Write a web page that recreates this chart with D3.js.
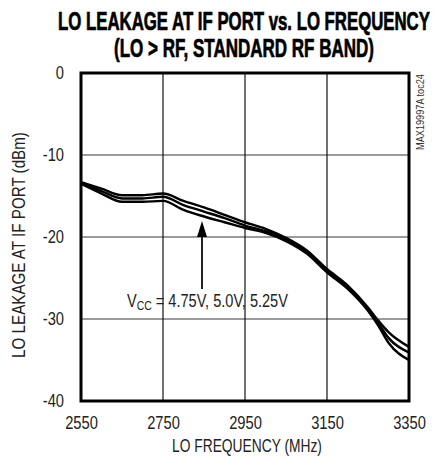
<!DOCTYPE html>
<html><head><meta charset="utf-8">
<script src="https://cdn.jsdelivr.net/npm/d3@7"></script>
<style>
html,body{margin:0;padding:0;background:#fff;}
svg text{font-family:"Liberation Sans",Arial,sans-serif;}
</style></head>
<body>
<svg id="c" width="433" height="458"></svg>
<script>
const freq = [2550, 2600, 2650, 2700, 2750, 2800, 2850, 2900, 2950, 3000, 3050, 3100, 3150, 3200, 3250, 3275, 3300, 3350];
const vcc475 = [-13.3, -14.1, -14.9, -14.9, -14.7, -15.6, -16.4, -17.3, -18.2, -19.0, -20.1, -21.6, -23.9, -25.9, -28.6, -30.2, -31.6, -33.4];
const vcc500 = [-13.4, -14.4, -15.3, -15.3, -15.1, -16.1, -16.9, -17.7, -18.6, -19.3, -20.3, -21.8, -24.1, -26.1, -28.8, -30.5, -32.3, -34.1];
const vcc525 = [-13.5, -14.7, -15.7, -15.7, -15.6, -16.7, -17.5, -18.2, -18.9, -19.5, -20.5, -22.0, -24.3, -26.3, -29.0, -30.8, -32.9, -35.0];
const xTicks = [2550, 2750, 2950, 3150, 3350];
const yTicks = [0, -10, -20, -30, -40];
const titleLines = ["LO LEAKAGE AT IF PORT vs. LO FREQUENCY", "(LO > RF, STANDARD RF BAND)"];

const svg = d3.select("#c");
const L = 81, R = 409, T = 73, B = 401;
const x = d3.scaleLinear().domain([2550, 3350]).range([L, R]);
const y = d3.scaleLinear().domain([-40, 0]).range([B, T]);

function squeeze(sel, sx, ax, ay) {
  sel.attr("transform", `translate(${ax},${ay}) scale(${sx},1) translate(${-ax},${-ay})`);
}
function fitText(x0, y0, str, size, width, weight, fill) {
  const t = svg.append("text").attr("x", x0).attr("y", y0).attr("text-anchor", "middle")
    .attr("font-size", size).attr("font-weight", weight || "normal").attr("fill", fill || "#222").text(str);
  const w = t.node().getComputedTextLength();
  squeeze(t, width / w, x0, y0);
  return t;
}

// grid
svg.append("g").selectAll("line").data(yTicks.slice(1, 4)).join("line")
  .attr("x1", L).attr("x2", R).attr("y1", d => y(d)).attr("y2", d => y(d))
  .attr("stroke", "#7a7a7a").attr("stroke-width", 1.6);
svg.append("g").selectAll("line").data(xTicks.slice(1, 4)).join("line")
  .attr("y1", T).attr("y2", B).attr("x1", d => x(d)).attr("x2", d => x(d))
  .attr("stroke", "#111").attr("stroke-width", 1.2);

// curves
const line = d3.line().x((d, i) => x(freq[i])).y(d => y(d)).curve(d3.curveMonotoneX);
svg.append("g").selectAll("path").data([vcc475, vcc500, vcc525]).join("path")
  .attr("d", d => line(d)).attr("fill", "none").attr("stroke", "#000").attr("stroke-width", 2.4);

// frame
svg.append("rect").attr("x", L).attr("y", T).attr("width", R - L).attr("height", B - T)
  .attr("fill", "none").attr("stroke", "#000").attr("stroke-width", 3);

const SX = 0.84, FS = 17.5;
// x axis labels
const xAxis = d3.axisBottom(x).tickValues(xTicks).tickSize(0).tickPadding(16).tickFormat(d => String(d));
const gx = svg.append("g").attr("transform", `translate(0,${B})`).call(xAxis);
gx.select(".domain").remove();
gx.selectAll("text").attr("font-size", FS).attr("fill", "#222").attr("dy", "0.71em")
  .attr("transform", `scale(${SX},1)`);

// y axis labels
const pad = 17;
const yAxis = d3.axisLeft(y).tickValues(yTicks).tickSize(0).tickPadding(pad).tickFormat(d => String(d));
const gy = svg.append("g").attr("transform", `translate(${L},0)`).call(yAxis);
gy.select(".domain").remove();
gy.selectAll("text").attr("font-size", FS).attr("fill", "#222")
  .attr("transform", `translate(${-pad},0) scale(${SX},1) translate(${pad},0)`);

// axis titles
fitText(247, 452, "LO FREQUENCY (MHz)", FS, 150);
const yl = svg.append("g").attr("transform", "translate(25,245) rotate(-90)");
{
  const t = yl.append("text").attr("x", 0).attr("y", 0).attr("text-anchor", "middle")
    .attr("font-size", FS).attr("fill", "#222").text("LO LEAKAGE AT IF PORT (dBm)");
  const w = t.node().getComputedTextLength();
  t.attr("transform", `scale(${226 / w},1)`);
}

// title
fitText(244, 30, titleLines[0], 25, 372, "bold", "#000").attr("stroke", "#000").attr("stroke-width", 0.7);
fitText(244, 57, titleLines[1], 25, 260, "bold", "#000").attr("stroke", "#000").attr("stroke-width", 0.7);

// side code
{
  const g = svg.append("g").attr("transform", "translate(424,112) rotate(-90)");
  const t = g.append("text").attr("text-anchor", "middle").attr("font-size", 11).attr("fill", "#333").text("MAX19997A toc24");
  const w = t.node().getComputedTextLength();
  t.attr("transform", `scale(${76 / w},1)`);
}

// annotation arrow
const ax = 202;
svg.append("line").attr("x1", ax).attr("x2", ax).attr("y1", 289).attr("y2", 232)
  .attr("stroke", "#222").attr("stroke-width", 2);
svg.append("path").attr("d", `M${ax},221 L${ax - 5},237 L${ax + 5},237 Z`).attr("fill", "#000");

{
  const ann = svg.append("text").attr("x", 127).attr("y", 307).attr("font-size", FS).attr("fill", "#222");
  ann.append("tspan").text("V");
  ann.append("tspan").attr("font-size", 12.5).attr("dy", 3).text("CC");
  ann.append("tspan").attr("dy", -3).text(" = 4.75V, 5.0V, 5.25V");
  const w = ann.node().getComputedTextLength();
  squeeze(ann, 161 / w, 127, 307);
}
</script>
</body></html>
